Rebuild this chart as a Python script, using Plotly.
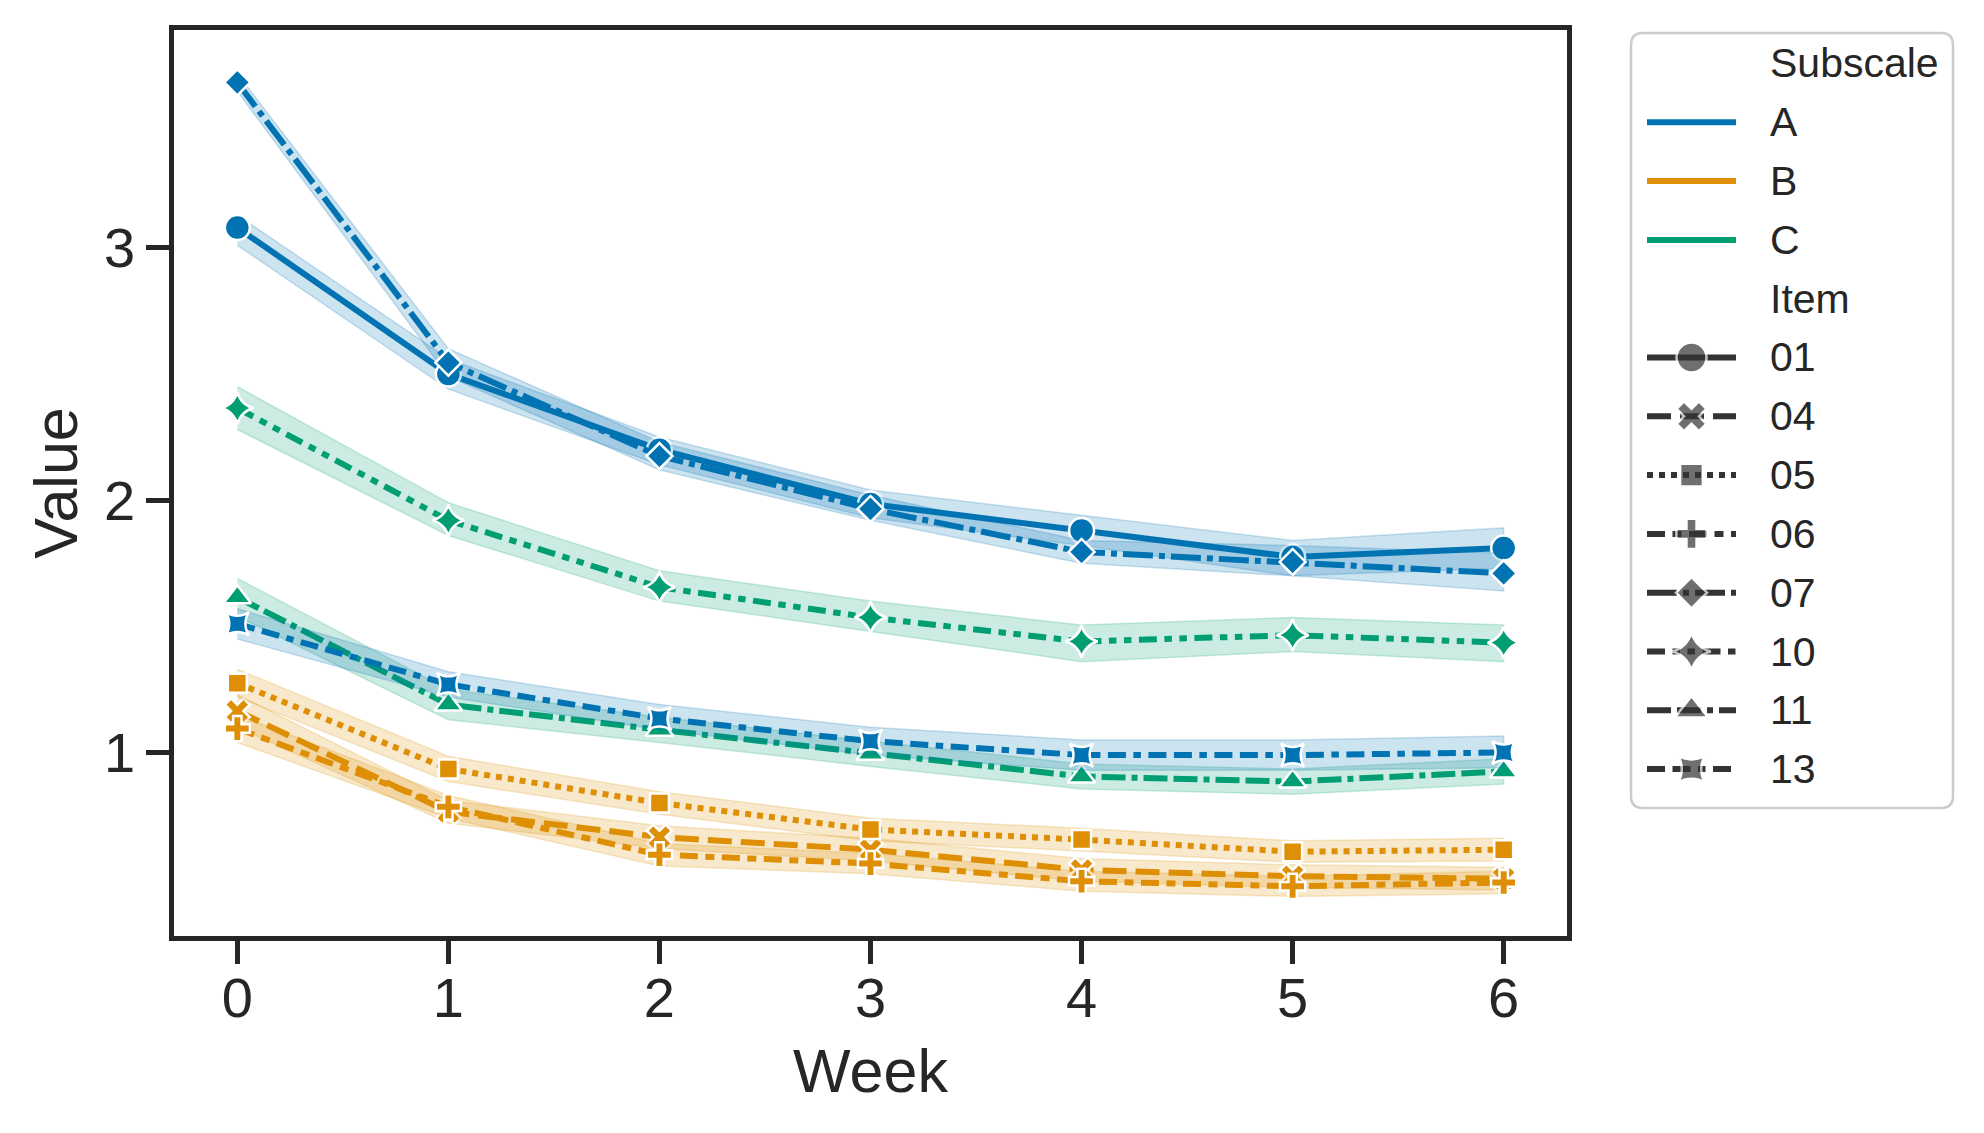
import plotly.graph_objects as go

# ---------------- data ----------------
weeks = [0, 1, 2, 3, 4, 5, 6]
subscales = ["A", "B", "C"]
items = ["01", "04", "05", "06", "07", "10", "11", "13"]
item_subscale = ["A", "B", "B", "B", "A", "C", "C", "A"]

mean_01 = [3.08, 2.50, 2.20, 1.985, 1.88, 1.775, 1.81]
lo_01 = [3.01, 2.44, 2.14, 1.93, 1.82, 1.70, 1.73]
hi_01 = [3.13, 2.56, 2.25, 2.04, 1.94, 1.84, 1.89]

mean_04 = [1.165, 0.765, 0.665, 0.615, 0.535, 0.51, 0.50]
lo_04 = [1.10, 0.72, 0.62, 0.57, 0.49, 0.465, 0.455]
hi_04 = [1.23, 0.81, 0.71, 0.66, 0.58, 0.555, 0.545]

mean_05 = [1.275, 0.935, 0.80, 0.695, 0.655, 0.607, 0.615]
lo_05 = [1.22, 0.885, 0.755, 0.65, 0.61, 0.565, 0.57]
hi_05 = [1.33, 0.985, 0.845, 0.74, 0.70, 0.65, 0.66]

mean_06 = [1.095, 0.785, 0.595, 0.56, 0.49, 0.47, 0.485]
lo_06 = [1.04, 0.74, 0.55, 0.52, 0.45, 0.43, 0.44]
hi_06 = [1.15, 0.83, 0.64, 0.60, 0.53, 0.51, 0.53]

mean_07 = [3.655, 2.545, 2.175, 1.965, 1.795, 1.755, 1.71]
lo_07 = [3.62, 2.49, 2.12, 1.92, 1.75, 1.70, 1.64]
hi_07 = [3.69, 2.60, 2.23, 2.02, 1.84, 1.82, 1.79]

mean_10 = [2.365, 1.92, 1.655, 1.535, 1.44, 1.465, 1.435]
lo_10 = [2.28, 1.86, 1.60, 1.48, 1.36, 1.40, 1.36]
hi_10 = [2.45, 1.99, 1.72, 1.60, 1.505, 1.535, 1.505]

mean_11 = [1.615, 1.19, 1.09, 0.995, 0.905, 0.885, 0.925]
lo_11 = [1.54, 1.13, 1.04, 0.945, 0.855, 0.835, 0.875]
hi_11 = [1.69, 1.25, 1.14, 1.045, 0.955, 0.935, 0.975]

mean_13 = [1.51, 1.27, 1.135, 1.045, 0.99, 0.99, 1.0]
lo_13 = [1.45, 1.22, 1.09, 0.99, 0.93, 0.93, 0.94]
hi_13 = [1.57, 1.32, 1.19, 1.10, 1.05, 1.05, 1.065]

x_ticks = [0, 1, 2, 3, 4, 5, 6]
y_ticks = [1, 2, 3]

means = {"01": mean_01, "04": mean_04, "05": mean_05, "06": mean_06,
         "07": mean_07, "10": mean_10, "11": mean_11, "13": mean_13}
lows = {"01": lo_01, "04": lo_04, "05": lo_05, "06": lo_06,
        "07": lo_07, "10": lo_10, "11": lo_11, "13": lo_13}
highs = {"01": hi_01, "04": hi_04, "05": hi_05, "06": hi_06,
         "07": hi_07, "10": hi_10, "11": hi_11, "13": hi_13}

# ---------------- styles ----------------
FONT = "Liberation Sans, Arial, sans-serif"
TXT = "#262626"
colors = {"A": "#0173b2", "B": "#de8f05", "C": "#029e73"}
bands = {"A": "rgba(1,115,178,0.2)", "B": "rgba(222,143,5,0.2)", "C": "rgba(2,158,115,0.2)"}
LW = 6.0
dashes = {"01": "solid", "04": "24px,9px", "05": "6px,6px", "06": "18px,7.5px,9px,7.5px",
          "07": "30px,6px,6px,6px", "10": "18px,7.5px,7.5px,7.5px,7.5px,7.5px",
          "11": "24px,6px,24px,6px,6px,6px", "13": "18px,7.5px,18px,7.5px,7.5px,7.5px"}
symbols = {"01": "circle", "04": "x", "05": "square", "06": "cross", "07": "diamond",
           "10": "star-diamond", "11": "triangle-up", "13": "star-square"}
msizes = {"01": 25, "04": 22, "05": 19, "06": 21, "07": 20, "10": 23, "11": 24, "13": 21}
EDGE = 2.5
LEG_SCALE = 1.2

# page offset (browser body margin) and figure size
OFF = 8
W, H = 1984 - 2 * OFF, 1133 - 2 * OFF
# plot frame in screen pixels
PL, PR, PT, PB = 174 - OFF, 1567 - OFF, 30 - OFF, 936 - OFF

fig = go.Figure()

for it, sub in zip(items, item_subscale):
    c = colors[sub]
    fig.add_trace(go.Scatter(
        x=weeks + weeks[::-1], y=highs[it] + lows[it][::-1],
        fill="toself", fillcolor=bands[sub], mode="lines",
        line=dict(color=bands[sub], width=1.5), hoverinfo="skip", showlegend=False,
        xaxis="x", yaxis="y"))
    fig.add_trace(go.Scatter(
        x=weeks, y=means[it], mode="lines+markers", name=it,
        line=dict(color=c, width=LW, dash=dashes[it]),
        marker=dict(symbol=symbols[it], size=msizes[it], color=c,
                    line=dict(color="white", width=EDGE)),
        showlegend=False, xaxis="x", yaxis="y"))

# ---------------- custom legend (separate hidden axes, pixel units) ----------------
LB_L, LB_R, LB_T, LB_B = 1631 - OFF, 1953 - OFF, 33 - OFF, 808 - OFF
pad = 4
row0 = 30.5
step = 58.8
line_x0, line_x1, text_x = 16, 105, 137

legend_rows = [("Subscale", None, None)] + [(s, "sub", s) for s in subscales] + \
              [("Item", None, None)] + [(it, "item", it) for it in items]

for k, (label, kind, key) in enumerate(legend_rows):
    yk = row0 + k * step
    if kind == "sub":
        fig.add_trace(go.Scatter(
            x=[line_x0, line_x1], y=[yk, yk], mode="lines",
            line=dict(color=colors[key], width=LW), hoverinfo="skip",
            showlegend=False, xaxis="x2", yaxis="y2"))
    elif kind == "item":
        xm = (line_x0 + line_x1) / 2
        fig.add_trace(go.Scatter(
            x=[line_x0, xm, line_x1], y=[yk, yk, yk], mode="lines+markers",
            line=dict(color="#333333", width=LW, dash=dashes[key]),
            marker=dict(symbol=symbols[key], size=[0, msizes[key] * LEG_SCALE, 0],
                        color="#333333", line=dict(color="white", width=[0, EDGE, 0])),
            hoverinfo="skip", showlegend=False, xaxis="x2", yaxis="y2"))
    fig.add_annotation(x=text_x, y=yk, xref="x2", yref="y2", text=label,
                       showarrow=False, xanchor="left", yanchor="middle",
                       font=dict(family=FONT, size=41, color=TXT))

bw, bh, r = LB_R - LB_L, LB_B - LB_T, 12
box = (f"M {r},0 L {bw - r},0 Q {bw},0 {bw},{r} L {bw},{bh - r} Q {bw},{bh} {bw - r},{bh} "
       f"L {r},{bh} Q 0,{bh} 0,{bh - r} L 0,{r} Q 0,0 {r},0 Z")
fig.add_shape(type="path", path=box, xref="x2", yref="y2", layer="below",
              line=dict(color="#cccccc", width=2.5), fillcolor="rgba(255,255,255,0.8)")

axis_common = dict(showgrid=False, zeroline=False, showline=True, linecolor=TXT,
                   linewidth=4.5, mirror=True, ticks="outside", ticklen=23, tickwidth=4.5,
                   tickcolor=TXT, tickfont=dict(family=FONT, size=56, color=TXT))

fig.update_layout(
    width=W, height=H, margin=dict(l=0, r=0, t=0, b=0),
    paper_bgcolor="white", plot_bgcolor="white",
    showlegend=False,
    xaxis=dict(domain=[PL / W, PR / W], range=[-0.3, 6.3], tickvals=x_ticks,
               title=dict(text="Week", font=dict(family=FONT, size=61, color=TXT), standoff=23),
               ticklabelstandoff=-14, automargin=False, **axis_common),
    yaxis=dict(domain=[1 - PB / H, 1 - PT / H], range=[0.273, 3.863], tickvals=y_ticks,
               title=dict(text="Value", font=dict(family=FONT, size=61, color=TXT), standoff=8),
               ticklabelstandoff=0, automargin=False, **axis_common),
    xaxis2=dict(domain=[(LB_L - pad) / W, (LB_R + pad) / W], range=[-pad, bw + pad],
                visible=False, anchor="y2", fixedrange=True),
    yaxis2=dict(domain=[1 - (LB_B + pad) / H, 1 - (LB_T - pad) / H], range=[bh + pad, -pad],
                visible=False, anchor="x2", fixedrange=True),
)

fig.write_html("out.html")
